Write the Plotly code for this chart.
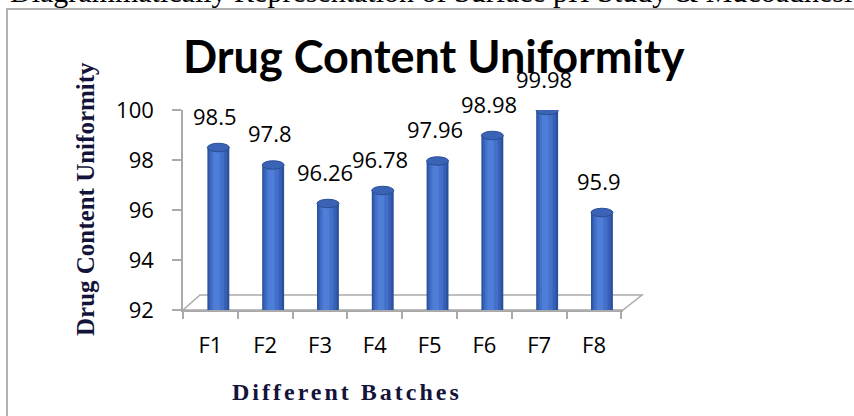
import plotly.graph_objects as go

batches = ["F1", "F2", "F3", "F4", "F5", "F6", "F7", "F8"]
content = [98.5, 97.8, 96.26, 96.78, 97.96, 98.98, 99.98, 95.9]
labels = ["98.5", "97.8", "96.26", "96.78", "97.96", "98.98", "99.98", "95.9"]

# plot area in pixels: x 183..623, y 110..310
W, H = 440, 200
def px(x): return (x - 183) / W
def py(y): return (310 - y) / H

fig = go.Figure()

# fake cylinder shading: stacked bars of decreasing width
shift = 0.145
layers = [(0.40, "#2c519c"), (0.33, "#3760b6"), (0.24, "#4370c9"), (0.12, "#4e7ed8")]
for w, col in layers:
    fig.add_trace(go.Bar(
        x=batches, y=[v - 92 for v in content], base=92,
        width=w, offset=-w / 2 + shift - (0.40 - w) * 0.12,
        marker=dict(color=col, line=dict(width=0)),
        hoverinfo="skip" if w < 0.4 else None,
    ))

# elliptical caps on top of the cylinders
for i, v in enumerate(content):
    fig.add_shape(type="circle", xref="x", yref="y",
                  x0=i + shift - 0.2, x1=i + shift + 0.2, y0=v - 0.17, y1=v + 0.17,
                  fillcolor="#3a63b5", line=dict(color="#2a4e96", width=1), layer="above")

# data labels
for b, v, t in zip(batches, content, labels):
    fig.add_annotation(x=b, y=v, text=t, showarrow=False, yshift=32, xshift=5,
                       font=dict(family="Open Sans", size=22, color="#000000"))

# 3d floor
fig.add_shape(type="path", xref="paper", yref="paper",
              path=f"M 0 0 L {px(200)} {py(295)} L {px(642)} {py(295)} L 1 0 Z",
              line=dict(color="#aaaaaa", width=1.5), fillcolor="rgba(0,0,0,0)", layer="below")

# outer frame of the figure box
fig.add_shape(type="rect", xref="paper", yref="paper",
              x0=px(7), x1=px(900), y0=py(440), y1=py(9),
              line=dict(color="#999999", width=1.5), layer="below")

# caption fragment cut at the top
fig.add_annotation(xref="paper", yref="paper", x=px(8), y=py(-8), xanchor="left", yanchor="middle",
                   text="Diagrammatically Representation of Surface pH Study &amp; Mucoadhesion Time",
                   showarrow=False, font=dict(family="Liberation Serif", size=30, color="#000"))

# chart title
fig.add_annotation(xref="paper", yref="paper", x=px(434), y=py(56.5), xanchor="center", yanchor="middle",
                   text="<b>Drug Content Uniformity</b>", showarrow=False,
                   font=dict(family="Lato", size=45, color="#000"))

# axis titles
fig.add_annotation(xref="paper", yref="paper", x=px(85), y=py(199), textangle=-90,
                   xanchor="center", yanchor="middle",
                   text="<b>Drug Content Uniformity</b>", showarrow=False,
                   font=dict(family="Liberation Serif", size=25, color="#14143a"))
fig.add_annotation(xref="paper", yref="paper", x=px(347), y=py(392),
                   xanchor="center", yanchor="middle",
                   text="<span style='letter-spacing:3px'><b>Different Batches</b></span>",
                   showarrow=False,
                   font=dict(family="Liberation Serif", size=24, color="#14143a"))

fig.update_layout(
    width=854, height=416,
    margin=dict(l=183, r=231, t=110, b=106),
    barmode="overlay",
    showlegend=False,
    plot_bgcolor="white", paper_bgcolor="white",
)
fig.update_xaxes(
    type="category", showgrid=False, showline=True, linecolor="#aaaaaa", linewidth=1.5,
    ticks="outside", tickson="boundaries", ticklen=7, tickcolor="#aaaaaa", tickwidth=1.5,
    ticklabelstandoff=15,
    tickfont=dict(family="Open Sans", size=22, color="#000"),
)
fig.update_yaxes(
    range=[92, 100], dtick=2, showgrid=False, showline=True, linecolor="#aaaaaa", linewidth=1.5,
    ticks="outside", ticklen=9, tickcolor="#aaaaaa", tickwidth=1.5, ticklabelstandoff=14,
    tickfont=dict(family="Open Sans", size=22, color="#000"), zeroline=False,
)

fig.write_html("out.html", config={"displayModeBar": False},
               post_script="document.body.style.margin='0';")
